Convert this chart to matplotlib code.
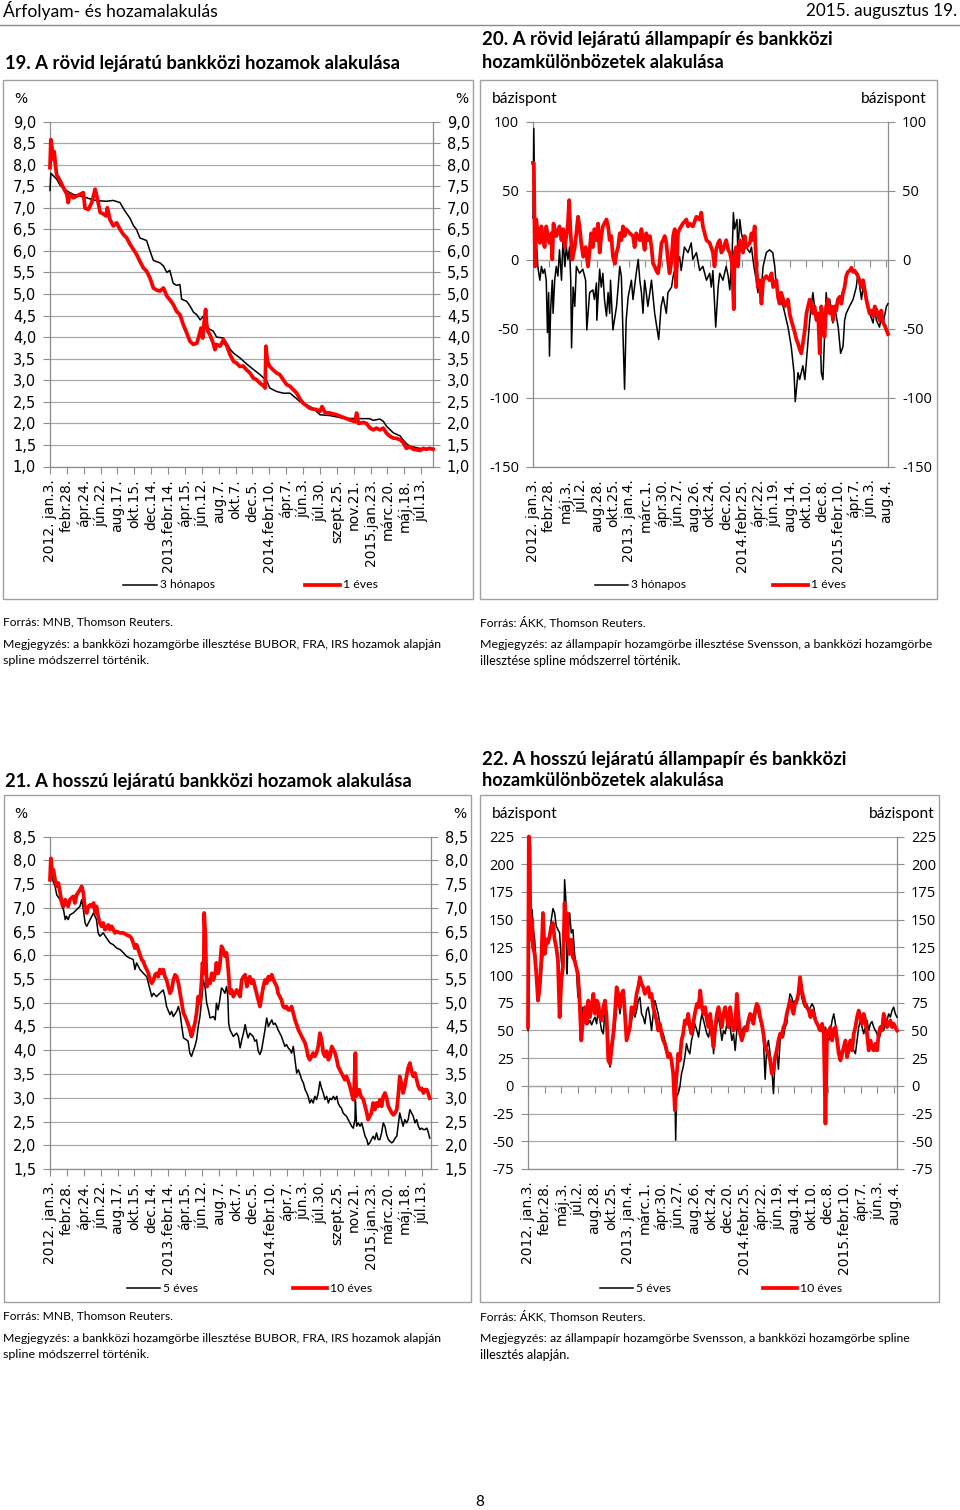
import matplotlib
matplotlib.use("Agg")
import matplotlib.pyplot as plt
from matplotlib.lines import Line2D
from matplotlib.patches import Rectangle

# ---------------- DATA ----------------
# x values are business-day indices from 2012-01-03; one axis label every 40 days
LABEL_STEP = 40
labels_a = ["2012. jan.3.", "febr.28.", "ápr.24.", "jún.22.", "aug.17.", "okt.15.", "dec.14.",
            "2013.febr.14.", "ápr.15.", "jún.12.", "aug.7.", "okt.7.", "dec.5.", "2014.febr.10.",
            "ápr.7.", "jún.3.", "júl.30.", "szept.25.", "nov.21.", "2015.jan.23.", "márc.20.",
            "máj.18.", "júl.13."]
labels_b = ["2012. jan.3.", "febr.28.", "máj.3.", "júl.2.", "aug.28.", "okt.25.", "2013. jan.4.",
            "márc.1.", "ápr.30.", "jún.27.", "aug.26.", "okt.24.", "dec.20.", "2014.febr.25.",
            "ápr.22.", "jún.19.", "aug.14.", "okt.10.", "dec.8.", "2015.febr.10.", "ápr.7.",
            "jún.3.", "aug.4."]

yt_19 = [1.0, 1.5, 2.0, 2.5, 3.0, 3.5, 4.0, 4.5, 5.0, 5.5, 6.0, 6.5, 7.0, 7.5, 8.0, 8.5, 9.0]
yt_20 = [-150, -100, -50, 0, 50, 100]
yt_21 = [1.5, 2.0, 2.5, 3.0, 3.5, 4.0, 4.5, 5.0, 5.5, 6.0, 6.5, 7.0, 7.5, 8.0, 8.5]
yt_22 = [-75, -50, -25, 0, 25, 50, 75, 100, 125, 150, 175, 200, 225]

# Chart 19: short interbank yields (%)
c19_3m = [(0,7.40),(2,7.80),(8,7.74),(16,7.66),(24,7.52),(40,7.39),(55,7.31),(71,7.27),(87,7.23),
          (103,7.18),(119,7.16),(134,7.15),(150,7.17),(166,7.12),(170,7.05),(178,6.92),(190,6.75),
          (198,6.58),(205,6.50),(213,6.30),(229,6.24),(237,6.00),(245,5.78),(261,5.72),(269,5.65),
          (277,5.50),(284,5.55),(292,5.25),(300,5.20),(308,5.22),(312,4.88),(324,4.83),(332,4.72),
          (340,4.58),(348,4.52),(356,4.40),(363,4.48),(371,4.22),(387,4.14),(395,4.00),(411,3.98),
          (419,3.86),(427,3.72),(435,3.63),(450,3.52),(466,3.38),(482,3.25),(498,3.13),(514,2.98),
          (521,2.82),(537,2.74),(553,2.70),(569,2.70),(585,2.57),(593,2.50),(608,2.43),(624,2.35),
          (640,2.20),(664,2.18),(695,2.12),(727,2.11),(758,2.11),(766,2.07),(782,2.10),(790,2.05),
          (798,1.93),(814,1.78),(830,1.71),(837,1.62),(845,1.53),(853,1.47),(877,1.42),(908,1.40)]
c19_1y = [(0,7.93),(2,8.58),(6,8.30),(8,8.12),(10,8.30),(13,7.98),(16,7.75),(20,7.70),(24,7.62),
          (32,7.46),(40,7.31),(43,7.12),(47,7.31),(55,7.23),(63,7.27),(71,7.31),(79,7.35),(83,6.99),
          (91,6.96),(99,7.12),(107,7.43),(111,7.27),(119,6.89),(126,6.86),(133,6.81),(136,7.00),
          (142,6.73),(150,6.58),(158,6.65),(166,6.50),(174,6.38),(182,6.30),(190,6.15),(198,6.03),
          (205,5.92),(213,5.76),(221,5.61),(229,5.53),(237,5.37),(245,5.14),(253,5.09),(261,5.07),
          (269,5.14),(277,4.95),(284,4.87),(292,4.76),(300,4.60),(308,4.52),(316,4.29),(324,4.10),
          (332,3.90),(340,3.83),(348,3.86),(353,4.02),(358,4.21),(362,3.98),(366,4.40),(369,4.64),
          (371,4.33),(374,4.14),(379,4.06),(387,3.86),(391,3.71),(395,3.83),(403,3.79),(407,3.86),
          (411,3.94),(415,3.86),(419,3.80),(427,3.59),(435,3.44),(442,3.40),(450,3.32),(458,3.33),
          (466,3.24),(474,3.17),(482,3.05),(490,3.01),(498,2.93),(506,2.87),(510,2.82),(512,3.79),
          (515,3.48),(517,3.40),(521,3.32),(529,3.24),(537,3.17),(545,3.13),(553,3.01),(561,2.90),
          (569,2.86),(577,2.78),(585,2.70),(593,2.56),(600,2.47),(608,2.41),(616,2.35),(624,2.33),
          (632,2.32),(640,2.28),(645,2.39),(652,2.25),(664,2.24),(679,2.20),(695,2.14),(711,2.08),
          (723,2.04),(727,2.24),(731,2.00),(743,2.02),(750,2.00),(758,1.90),(766,1.85),(774,1.89),
          (782,1.85),(790,1.89),(798,1.77),(806,1.70),(814,1.66),(822,1.65),(830,1.62),(837,1.56),
          (845,1.42),(853,1.46),(861,1.40),(869,1.39),(877,1.37),(885,1.42),(892,1.40),(900,1.42),
          (908,1.40)]

# Chart 20: short government - interbank spreads (bp)
c20_3m = [(0,30),(2,95),(5,29),(12,-5),(17,-15),(21,-5),(25,-10),(29,-7),(33,-15),(36,-53),(39,-24),
          (41,-70),(44,-36),(48,-15),(50,-39),(54,-15),(58,-5),(62,-12),(66,7),(71,-15),(75,17),
          (79,-5),(83,9),(87,0),(91,9),(94,-15),(96,-64),(100,-20),(104,-34),(108,-5),(116,-10),
          (124,-7),(131,-15),(134,-51),(141,-24),(149,-22),(153,-29),(158,-17),(159,-44),(166,-7),
          (170,-20),(174,-10),(178,-29),(183,-41),(187,-24),(191,-39),(193,-15),(199,-51),(208,-34),
          (212,-20),(216,-5),(220,-12),(228,-94),(232,-44),(237,-27),(245,-15),(249,-29),(257,-10),
          (262,0),(266,-15),(270,-24),(274,-39),(278,-15),(282,-24),(286,-34),(291,-24),(295,-15),
          (299,-27),(303,-39),(313,-58),(319,-34),(324,-27),(332,-39),(336,-24),(345,-20),(349,-12),
          (357,-3),(365,2),(369,-8),(377,9),(386,5),(394,12),(398,0),(407,5),(415,-8),(423,-5),
          (432,-15),(440,-10),(444,-20),(448,-8),(455,-49),(461,-20),(465,-10),(473,-15),(481,-5),
          (486,-12),(490,-22),(496,5),(499,34),(502,22),(508,29),(510,5),(515,29),(519,19),(523,14),
          (531,9),(540,5),(544,9),(550,-5),(556,-15),(560,-24),(564,-15),(569,-20),(573,-5),(581,5),
          (589,7),(597,5),(602,-5),(606,-20),(614,-29),(623,-34),(627,-39),(635,-49),(643,-63),
          (650,-82),(653,-103),(660,-82),(664,-87),(672,-77),(677,-87),(681,-73),(685,-58),(689,-44),
          (693,-34),(697,-24),(701,-34),(706,-39),(714,-44),(718,-82),(722,-87),(730,-24),(735,-39),
          (739,-29),(747,-46),(751,-34),(760,-49),(766,-68),(772,-63),(776,-44),(780,-39),(788,-34),
          (797,-29),(805,-20),(809,-10),(818,-29),(822,-20),(830,-27),(838,-39),(847,-46),(851,-34),
          (855,-44),(863,-49),(868,-39),(872,-46),(880,-34),(884,-32)]
c20_1y = [(0,70),(2,70),(5,-5),(8,29),(12,19),(17,12),(21,24),(25,14),(29,9),(33,24),(37,17),(41,12),
          (46,19),(48,0),(51,26),(58,17),(66,24),(71,14),(75,22),(79,9),(83,17),(87,26),(90,43),
          (93,22),(98,0),(104,9),(108,19),(112,31),(116,24),(120,12),(125,2),(131,9),(137,-5),(141,7),
          (145,19),(149,9),(153,22),(158,14),(162,26),(166,5),(170,17),(174,24),(183,29),(187,24),
          (191,14),(195,17),(199,2),(204,-3),(208,5),(212,9),(216,19),(220,14),(224,24),(228,17),
          (232,22),(241,19),(249,17),(253,9),(257,19),(266,14),(270,22),(274,14),(278,7),(282,19),
          (286,14),(291,17),(295,9),(299,-3),(303,-5),(307,-8),(311,-10),(315,-3),(320,12),(324,14),
          (328,17),(332,12),(336,0),(340,-10),(344,-3),(349,17),(353,22),(356,-20),(361,19),(365,22),
          (373,26),(382,29),(386,24),(390,26),(398,24),(407,31),(415,29),(419,34),(423,24),(432,14),
          (440,12),(448,5),(452,-5),(456,7),(461,12),(465,14),(469,5),(473,7),(481,14),(486,7),
          (490,5),(494,0),(496,-5),(500,-36),(502,5),(506,9),(510,-5),(515,14),(523,5),(527,17),
          (531,9),(540,12),(544,19),(548,14),(552,24),(556,-5),(560,-20),(564,-15),(569,-32),(573,-15),
          (581,-12),(589,-15),(594,-10),(598,-20),(606,-15),(610,-27),(614,-32),(618,-24),(623,-29),
          (627,-34),(635,-29),(639,-39),(643,-44),(648,-49),(652,-53),(656,-58),(660,-61),(664,-65),
          (668,-68),(672,-61),(677,-51),(681,-39),(685,-34),(689,-29),(693,-32),(697,-39),(701,-34),
          (706,-44),(710,-39),(714,-68),(718,-34),(722,-44),(726,-56),(730,-34),(735,-29),(739,-39),
          (743,-34),(747,-44),(751,-34),(755,-37),(759,-29),(764,-27),(768,-32),(772,-24),(776,-20),
          (780,-12),(784,-9),(789,-8),(793,-6),(797,-9),(801,-8),(805,-10),(809,-12),(813,-15),
          (818,-20),(822,-15),(826,-22),(830,-29),(834,-34),(838,-39),(843,-37),(847,-41),(851,-34),
          (859,-39),(863,-44),(867,-37),(872,-46),(876,-48),(880,-51),(884,-54)]

# Chart 21: long interbank yields (%)
c21_5y = [(0,7.66),(2,8.04),(6,7.59),(12,7.45),(16,7.27),(24,7.17),(28,7.03),(32,6.96),(36,6.75),
          (39,6.82),(43,6.75),(47,6.85),(55,6.89),(63,6.96),(71,7.03),(75,7.17),(79,6.96),(83,6.68),
          (87,6.61),(95,6.75),(103,6.89),(110,6.75),(114,6.47),(118,6.40),(126,6.47),(134,6.36),
          (142,6.26),(150,6.22),(158,6.15),(166,6.12),(174,6.05),(181,5.98),(189,5.94),(197,5.91),
          (201,5.70),(205,5.84),(213,5.70),(221,5.62),(229,5.55),(233,5.41),(237,5.27),(241,5.13),
          (245,5.20),(252,5.13),(260,5.20),(268,5.27),(272,5.13),(276,4.92),(284,4.75),(288,4.82),
          (292,4.71),(300,4.82),(304,4.92),(308,4.78),(312,4.50),(316,4.26),(323,4.22),(327,4.19),
          (331,3.94),(335,3.87),(339,3.98),(343,4.08),(347,4.22),(351,4.50),(355,4.71),(359,5.06),
          (363,5.48),(367,5.34),(371,4.99),(375,4.85),(379,4.68),(387,4.71),(391,4.64),(394,4.99),
          (398,4.85),(402,5.06),(406,5.31),(410,5.27),(414,5.20),(418,5.34),(421,5.13),(423,4.57),
          (426,4.43),(430,4.36),(434,4.29),(442,4.36),(446,4.29),(450,4.05),(454,4.22),(458,4.36),
          (462,4.54),(466,4.36),(469,4.26),(473,4.36),(481,4.29),(485,4.19),(489,4.22),(493,3.98),
          (497,3.91),(501,4.01),(505,4.22),(509,4.43),(513,4.68),(517,4.50),(521,4.57),(525,4.64),
          (529,4.54),(533,4.57),(537,4.50),(540,4.43),(544,4.36),(548,4.29),(552,4.19),(556,4.08),
          (560,4.12),(564,4.05),(568,4.01),(572,3.94),(576,4.08),(580,3.80),(584,3.52),(588,3.59),
          (592,3.49),(596,3.38),(600,3.31),(604,3.17),(608,3.10),(611,3.03),(615,2.89),(619,2.96),
          (623,2.89),(627,3.03),(631,2.96),(635,3.10),(639,3.34),(643,3.20),(647,3.10),(651,2.96),
          (655,3.03),(659,2.89),(663,2.99),(667,2.96),(671,3.03),(675,2.96),(679,3.03),(682,2.89),
          (686,2.82),(690,2.78),(694,2.68),(698,2.64),(702,2.61),(706,2.54),(710,2.47),(714,2.40),
          (718,2.36),(722,2.54),(723,2.96),(726,2.40),(730,2.47),(734,2.40),(738,2.47),(742,2.33),
          (746,2.19),(750,2.12),(753,2.01),(757,2.05),(761,2.12),(765,2.19),(769,2.12),(773,2.26),
          (777,2.12),(781,2.12),(785,2.26),(789,2.47),(793,2.40),(797,2.22),(801,2.12),(805,2.08),
          (809,2.05),(813,2.08),(817,2.15),(821,2.19),(825,2.47),(828,2.68),(832,2.54),(836,2.40),
          (840,2.54),(844,2.47),(848,2.54),(852,2.75),(856,2.68),(860,2.61),(864,2.47),(868,2.54),
          (872,2.40),(876,2.33),(880,2.36),(884,2.33),(888,2.33),(892,2.36),(895,2.29),(899,2.15)]
c21_10y = [(0,7.59),(2,8.04),(6,7.66),(8,7.80),(12,7.59),(16,7.45),(20,7.52),(24,7.31),(28,7.10),
           (32,7.03),(36,7.17),(39,7.10),(43,7.03),(47,7.17),(55,7.24),(59,7.10),(63,7.27),(71,7.38),
           (75,7.45),(79,7.31),(83,6.96),(87,6.89),(91,7.03),(95,7.06),(99,7.03),(103,7.10),(107,6.89),
           (110,7.03),(114,6.82),(118,6.68),(122,6.61),(126,6.68),(130,6.54),(134,6.57),(138,6.64),
           (142,6.54),(146,6.61),(150,6.54),(154,6.47),(158,6.50),(166,6.47),(174,6.47),(181,6.43),
           (189,6.40),(193,6.36),(197,6.26),(201,6.15),(205,6.22),(209,6.12),(213,6.01),(217,5.91),
           (221,5.87),(225,5.77),(229,5.70),(233,5.62),(237,5.48),(241,5.41),(245,5.48),(249,5.59),
           (252,5.62),(256,5.55),(260,5.70),(264,5.62),(268,5.70),(272,5.55),(276,5.48),(280,5.34),
           (284,5.20),(288,5.27),(292,5.48),(296,5.59),(300,5.55),(304,5.41),(308,5.20),(312,4.99),
           (316,4.78),(320,4.71),(323,4.64),(327,4.54),(331,4.43),(335,4.29),(339,4.43),(343,4.57),
           (347,4.78),(351,5.13),(355,4.99),(359,5.48),(361,5.84),(364,5.62),(365,6.89),(368,6.40),
           (370,5.62),(372,5.34),(375,5.48),(379,5.41),(383,5.62),(387,5.48),(391,5.62),(394,5.84),
           (398,5.62),(402,5.77),(406,6.19),(410,6.12),(414,5.98),(418,6.05),(422,5.70),(426,5.20),
           (430,5.27),(434,5.13),(438,5.20),(442,5.27),(446,5.20),(450,5.13),(454,5.48),(458,5.55),
           (462,5.59),(466,5.34),(469,5.48),(473,5.55),(477,5.41),(481,5.48),(485,5.34),(489,5.20),
           (493,5.06),(497,4.92),(501,5.13),(505,5.34),(509,5.48),(513,5.41),(517,5.55),(521,5.48),
           (525,5.59),(529,5.48),(533,5.41),(537,5.34),(540,5.20),(544,5.13),(548,5.06),(552,4.92),
           (556,4.89),(560,4.92),(564,4.85),(568,4.85),(572,4.92),(576,4.78),(580,4.64),(584,4.54),
           (588,4.43),(592,4.36),(596,4.29),(600,4.22),(604,4.15),(608,4.01),(611,3.87),(615,3.80),
           (619,3.87),(623,3.94),(627,3.87),(631,3.94),(635,4.08),(639,4.36),(643,4.22),(647,3.94),
           (651,3.87),(655,3.98),(659,3.80),(663,3.87),(667,4.08),(671,4.01),(675,3.94),(679,3.80),
           (682,3.66),(686,3.59),(690,3.52),(694,3.45),(698,3.38),(702,3.45),(706,3.35),(710,3.24),
           (714,3.10),(718,2.96),(720,3.17),(723,3.94),(725,3.03),(728,3.10),(732,3.17),(736,3.03),
           (742,2.96),(746,2.82),(750,2.68),(753,2.54),(757,2.61),(761,2.68),(765,2.89),(769,2.75),
           (773,2.89),(777,2.82),(781,2.96),(785,2.82),(789,3.03),(793,3.10),(797,2.99),(801,2.82),
           (805,2.75),(809,2.68),(813,2.64),(817,2.68),(821,2.75),(825,3.10),(828,3.45),(832,3.31),
           (836,3.10),(840,3.24),(844,3.45),(848,3.63),(852,3.73),(856,3.56),(860,3.45),(864,3.52),
           (868,3.38),(872,3.24),(876,3.17),(880,3.20),(884,3.10),(888,3.17),(892,3.17),(895,3.10),
           (899,2.99)]

# Chart 22: long government - interbank spreads (bp)
c22_5y = [(0,50),(2,222),(4,192),(6,135),(10,159),(12,144),(16,132),(20,107),(24,95),(28,83),(32,101),
          (36,119),(40,132),(44,125),(48,132),(52,138),(56,150),(60,160),(64,156),(68,144),(72,141),
          (76,138),(80,113),(84,101),(88,186),(91,168),(94,101),(96,132),(100,156),(104,138),(108,141),
          (112,119),(116,107),(120,80),(124,89),(128,56),(132,71),(137,62),(141,68),(145,56),(149,59),
          (153,55),(157,59),(161,62),(165,56),(169,71),(173,59),(177,50),(181,47),(185,68),(189,50),
          (193,41),(197,17),(201,29),(205,41),(209,53),(213,71),(217,77),(221,65),(225,77),(229,80),
          (233,65),(237,53),(241,47),(245,50),(249,59),(253,68),(257,62),(261,68),(265,77),(269,80),
          (273,65),(277,62),(281,56),(285,68),(289,71),(293,62),(297,50),(301,65),(305,77),(309,71),
          (313,65),(317,56),(321,50),(325,47),(329,41),(333,35),(337,29),(341,29),(345,23),(349,11),
          (353,-4),(355,-49),(357,-10),(361,-7),(365,-1),(369,11),(373,17),(377,26),(381,38),(385,32),
          (389,29),(393,41),(397,47),(401,56),(406,50),(410,44),(414,56),(418,65),(422,59),(426,53),
          (430,47),(434,44),(438,53),(442,59),(446,29),(450,47),(454,56),(458,62),(462,53),(466,41),
          (470,50),(474,47),(478,56),(482,65),(486,53),(490,41),(494,47),(498,32),(502,50),(506,59),
          (510,53),(514,47),(518,53),(522,50),(526,56),(530,62),(534,59),(538,65),(542,56),(546,62),
          (550,71),(554,65),(558,59),(562,53),(566,41),(570,6),(574,35),(578,41),(582,29),(586,17),
          (590,-7),(594,23),(598,32),(602,15),(606,41),(610,50),(614,44),(618,53),(622,56),(626,74),
          (630,83),(634,80),(638,74),(642,77),(646,74),(650,83),(654,89),(658,80),(662,74),(666,71),
          (670,74),(675,68),(679,71),(683,74),(687,71),(691,62),(695,56),(699,50),(703,53),(707,56),
          (711,50),(715,53),(719,44),(723,41),(727,50),(731,59),(735,65),(739,56),(743,47),(747,35),
          (751,29),(755,26),(759,35),(763,41),(767,32),(771,29),(775,41),(779,35),(783,32),(787,29),
          (791,41),(795,53),(799,59),(803,53),(807,47),(811,53),(815,59),(819,50),(823,56),(827,58),
          (831,53),(835,50),(839,47),(843,41),(847,47),(851,53),(855,50),(859,56),(863,59),(867,65),
          (871,62),(875,68),(879,71),(883,65),(887,62)]
c22_10y = [(0,53),(2,225),(4,216),(6,132),(10,150),(12,125),(16,119),(20,101),(24,77),(28,89),(32,113),
           (36,156),(40,119),(44,132),(48,129),(52,135),(56,144),(60,147),(64,132),(68,125),(72,113),
           (76,62),(80,95),(84,107),(88,165),(91,132),(94,156),(96,132),(100,119),(104,132),(108,116),
           (112,113),(116,107),(120,101),(124,77),(128,41),(132,59),(137,71),(141,56),(145,77),(149,62),
           (153,71),(157,83),(161,65),(165,77),(169,74),(173,62),(177,59),(181,71),(185,77),(189,62),
           (193,23),(197,20),(201,35),(205,47),(209,65),(213,89),(217,83),(221,71),(225,83),(229,86),
           (233,65),(237,41),(241,47),(245,53),(249,71),(253,65),(257,71),(261,83),(265,89),(269,98),
           (273,92),(277,89),(281,83),(285,86),(289,89),(293,80),(297,83),(301,71),(305,65),(309,59),
           (313,50),(317,56),(321,47),(325,41),(329,38),(333,32),(337,26),(341,29),(345,23),(349,11),
           (353,-22),(356,5),(359,17),(361,29),(365,23),(369,41),(373,47),(377,59),(381,56),(385,65),
           (389,53),(393,47),(397,56),(401,65),(406,74),(410,71),(414,86),(418,71),(422,65),(426,71),
           (430,59),(434,53),(438,65),(442,47),(446,35),(450,53),(454,65),(458,71),(462,62),(466,53),
           (470,65),(474,71),(478,62),(482,53),(486,71),(490,59),(494,50),(498,53),(502,83),(506,62),
           (510,47),(514,41),(518,47),(522,53),(526,50),(530,59),(534,65),(538,62),(542,56),(546,68),
           (550,74),(554,71),(558,62),(562,56),(566,47),(570,35),(574,32),(578,29),(582,23),(586,11),
           (590,14),(594,26),(598,32),(602,41),(606,47),(610,44),(614,53),(618,56),(622,65),(626,71),
           (630,77),(634,71),(638,65),(642,74),(646,77),(650,83),(654,98),(658,86),(662,80),(666,74),
           (670,71),(675,68),(679,62),(683,68),(687,65),(691,59),(695,56),(699,53),(703,50),(707,56),
           (711,47),(715,-34),(717,11),(719,50),(723,47),(727,53),(731,41),(735,50),(739,53),(743,41),
           (747,29),(751,23),(755,29),(759,35),(763,41),(767,26),(771,35),(775,41),(779,32),(783,47),
           (787,53),(791,62),(795,68),(799,62),(803,56),(807,65),(811,59),(815,47),(819,32),(823,41),
           (827,35),(831,32),(835,38),(839,32),(843,47),(847,53),(851,50),(855,65),(859,59),(863,53),
           (867,56),(871,59),(875,53),(879,56),(883,53),(887,50)]

# ---------------- LAYOUT / STYLE ----------------
W, H = 960, 1510
fig = plt.figure(figsize=(9.6, 15.1), dpi=100)
fig.patch.set_facecolor("white")
renderer = fig.canvas.get_renderer()

GRID = "#a8a8a8"
AXC = "#8c8c8c"
RED = "#ff0000"
TXT = "Lato"


def fx(x):
    return x / W


def fy(y):
    return 1 - y / H


def ftext(x, y, s, width=None, size=10, family=TXT, weight="normal", ha="left", va="center"):
    t = fig.text(fx(x), fy(y), s, fontsize=size, family=family, weight=weight,
                 ha=ha, va=va, color="black")
    if width:
        w = t.get_window_extent(renderer).width
        t.set_fontsize(size * width / w)
    return t


def fmt_pct(v):
    return f"{v:.1f}".replace(".", ",")


def fmt_bp(v):
    return f"{v:d}"


def panel(box, ylim, yticks, fmt, xlabels, xmax, black, red, yfont, ysize, zero_axis):
    x0, y0, x1, y1 = box
    ax = fig.add_axes([fx(x0), fy(y1), (x1 - x0) / W, (y1 - y0) / H])
    bd, bv = zip(*black)
    rd, rv = zip(*red)
    ax.plot(bd, bv, color="black", lw=1.1, solid_joinstyle="round", zorder=3, clip_on=False)
    ax.plot(rd, rv, color=RED, lw=2.7, solid_joinstyle="round", zorder=4, clip_on=False)
    ax.set_xlim(0, xmax)
    ax.set_ylim(*ylim)
    ax.set_yticks(yticks)
    ax.set_yticklabels([fmt(v) for v in yticks])
    ax.yaxis.grid(True, color=GRID, lw=0.9)
    ax.xaxis.grid(False)
    ax.set_axisbelow(True)
    for s in ["left", "right", "bottom"]:
        ax.spines[s].set_color(AXC)
        ax.spines[s].set_linewidth(0.9)
    ax.spines["top"].set_visible(False)
    ax.tick_params(axis="y", left=True, right=True, labelleft=True, labelright=True,
                   direction="out", length=5, width=0.8, color=AXC, labelsize=ysize,
                   labelfontfamily=yfont, pad=5)
    xt = [LABEL_STEP * i for i in range(len(xlabels))]
    ax.set_xticks(xt)
    ax.set_xticklabels(xlabels, rotation=90)
    if zero_axis:
        ax.tick_params(axis="x", length=0, labelsize=10, labelfontfamily="DejaVu Sans", pad=9)
        loc = (0 - ylim[0]) / (ylim[1] - ylim[0])
        sec = ax.secondary_xaxis(loc)
        sec.set_alignment("bottom")
        sec.set_xticks(xt)
        sec.tick_params(axis="x", direction="out", length=5, width=0.8, color=AXC,
                        labelbottom=False, labeltop=False)
        sec.spines["bottom"].set_color(AXC)
        sec.spines["bottom"].set_linewidth(0.9)
    else:
        ax.tick_params(axis="x", direction="out", length=5, width=0.8, color=AXC,
                       labelsize=10, labelfontfamily="DejaVu Sans", pad=4)
    return ax


def frame(x0, y0, x1, y1):
    fig.add_artist(Rectangle((fx(x0), fy(y1)), (x1 - x0) / W, (y1 - y0) / H,
                             transform=fig.transFigure, fill=False, ec="#a0a0a0", lw=1.0))


def legend(y, bx0, bx1, btxt, rx0, rx1, rtxt, bw, rw):
    fig.add_artist(Line2D([fx(bx0), fx(bx1)], [fy(y), fy(y)], transform=fig.transFigure,
                          color="black", lw=1.1))
    fig.add_artist(Line2D([fx(rx0), fx(rx1)], [fy(y), fy(y)], transform=fig.transFigure,
                          color=RED, lw=2.7))
    ftext(bx1 + 3, y, btxt, width=bw, size=9)
    ftext(rx1 + 3, y, rtxt, width=rw, size=9)


# ---- page header ----
ftext(3, 11, "Árfolyam- és hozamalakulás", width=214, size=12)
ftext(957, 11, "2015. augusztus 19.", width=151, size=12, ha="right")
fig.add_artist(Line2D([0, 1], [fy(25), fy(25)], transform=fig.transFigure, color="#8a8a8a", lw=1))

# ---- chart 19 ----
ftext(5, 63, "19. A rövid lejáratú bankközi hozamok alakulása", width=392, size=12, weight="bold")
frame(3, 80, 473, 599)
panel((50, 121.5, 433, 466.5), (1.0, 9.0), yt_19, fmt_pct, labels_a, 908, c19_3m, c19_1y,
      "DejaVu Sans", 10.5, False)
ftext(21, 99, "%", size=10, family="DejaVu Sans", ha="center")
ftext(462, 99, "%", size=10, family="DejaVu Sans", ha="center")
legend(585, 123, 157, "3 hónapos", 305, 340, "1 éves", 55, 35)
ftext(3, 622, "Forrás: MNB, Thomson Reuters.", width=169, size=9)
ftext(3, 644, "Megjegyzés: a bankközi hozamgörbe illesztése BUBOR, FRA, IRS hozamok alapján",
      width=439, size=9)
ftext(3, 661, "spline módszerrel történik.", width=146, size=9)

# ---- chart 20 ----
ftext(482, 40, "20. A rövid lejáratú állampapír és bankközi", width=348, size=12, weight="bold")
ftext(482, 63, "hozamkülönbözetek alakulása", width=240, size=12, weight="bold")
frame(480, 80, 937, 599)
panel((533, 121.5, 888, 466.5), (-150, 100), yt_20, fmt_bp, labels_b, 884, c20_3m, c20_1y,
      "Open Sans", 10.5, True)
ftext(492, 99, "bázispont", width=66, size=10)
ftext(927, 99, "bázispont", width=66, size=10, ha="right")
legend(585, 595, 628, "3 hónapos", 773, 808, "1 éves", 55, 35)
ftext(480, 622, "Forrás: ÁKK, Thomson Reuters.", width=166, size=9)
ftext(480, 644, "Megjegyzés: az állampapír hozamgörbe illesztése Svensson, a bankközi hozamgörbe",
      width=452, size=9)
ftext(480, 661, "illesztése spline módszerrel történik.", width=201, size=9)

# ---- chart 21 ----
ftext(5, 781, "21. A hosszú lejáratú bankközi hozamok alakulása", width=404, size=12, weight="bold")
frame(4, 795, 471, 1302)
panel((50, 836.5, 431, 1169), (1.5, 8.5), yt_21, fmt_pct, labels_a, 902, c21_5y, c21_10y,
      "DejaVu Sans", 10.5, False)
ftext(21, 814, "%", size=10, family="DejaVu Sans", ha="center")
ftext(460, 814, "%", size=10, family="DejaVu Sans", ha="center")
legend(1288, 127, 160, "5 éves", 293, 327, "10 éves", 35, 42)
ftext(3, 1316, "Forrás: MNB, Thomson Reuters.", width=169, size=9)
ftext(3, 1338, "Megjegyzés: a bankközi hozamgörbe illesztése BUBOR, FRA, IRS hozamok alapján",
      width=439, size=9)
ftext(3, 1355, "spline módszerrel történik.", width=146, size=9)

# ---- chart 22 ----
ftext(482, 759, "22. A hosszú lejáratú állampapír és bankközi", width=361, size=12, weight="bold")
ftext(482, 781, "hozamkülönbözetek alakulása", width=240, size=12, weight="bold")
frame(480, 795, 939, 1302)
panel((528, 836.5, 897, 1169), (-75, 225), yt_22, fmt_bp, labels_b, 887, c22_5y, c22_10y,
      "Open Sans", 10.5, True)
ftext(492, 814, "bázispont", width=66, size=10)
ftext(935, 814, "bázispont", width=66, size=10, ha="right")
legend(1288, 600, 633, "5 éves", 763, 797, "10 éves", 35, 42)
ftext(480, 1316, "Forrás: ÁKK, Thomson Reuters.", width=166, size=9)
ftext(480, 1338, "Megjegyzés: az állampapír hozamgörbe Svensson, a bankközi hozamgörbe spline",
      width=433, size=9)
ftext(480, 1355, "illesztés alapján.", width=90, size=9)

# ---- page number ----
ftext(480, 1502, "8", size=11, ha="center")

fig.savefig("out.png", dpi=100, facecolor="white")
